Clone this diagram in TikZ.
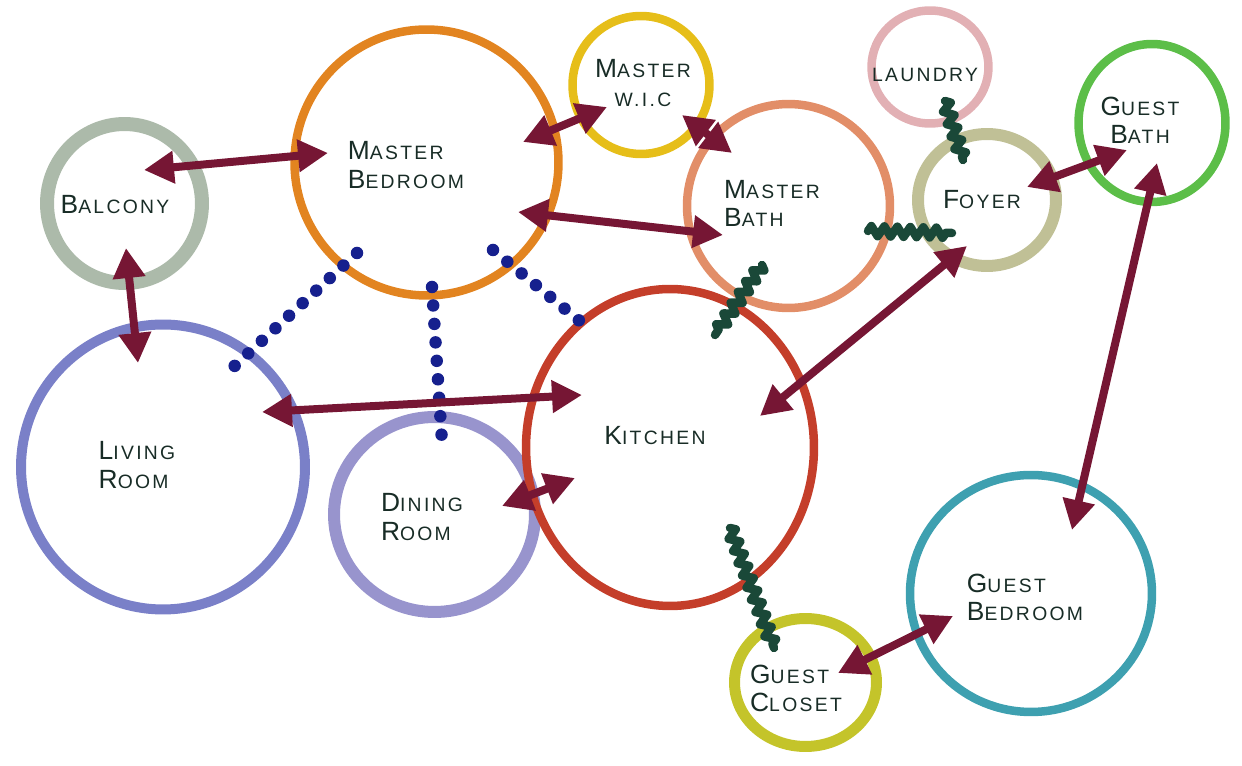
\documentclass[tikz,border=0pt]{standalone}
\usepackage{fontspec}
\newfontfamily\handfont[LetterSpace=12]{Liberation Sans}
\usetikzlibrary{shapes.geometric,arrows.meta,decorations.pathmorphing}
\definecolor{cbal}{RGB}{172,186,170}
\definecolor{cmbed}{RGB}{226,132,32}
\definecolor{cwic}{RGB}{230,190,25}
\definecolor{cmbath}{RGB}{226,142,104}
\definecolor{claun}{RGB}{226,176,180}
\definecolor{cfoy}{RGB}{192,192,150}
\definecolor{cgbath}{RGB}{92,190,72}
\definecolor{cliv}{RGB}{122,128,200}
\definecolor{cdin}{RGB}{152,148,205}
\definecolor{ckit}{RGB}{196,62,42}
\definecolor{cgbed}{RGB}{62,160,176}
\definecolor{cgclo}{RGB}{196,196,42}
\definecolor{maroon}{RGB}{118,22,52}
\definecolor{spring}{RGB}{26,72,56}
\definecolor{dotblue}{RGB}{22,32,142}
\definecolor{ink}{RGB}{24,44,38}
\newcommand\bigch[1]{{\fontsize{15}{16}\selectfont #1}}
\tikzset{
  bubble/.style={draw, ellipse, inner sep=0pt, line width=0.17cm},
  lbl/.style={font=\handfont\fontsize{11}{16}\selectfont, text=ink, align=left, inner sep=0pt},
  link/.style={draw=maroon, line width=0.16cm,
    {Triangle[length=0.6cm,width=0.62cm]}-{Triangle[length=0.6cm,width=0.62cm]}},
  squig/.style={draw=spring, line width=0.17cm, line cap=round, line join=round,
    decorate, decoration={zigzag, segment length=0.26cm, amplitude=0.1cm}},
  dots/.style={draw=dotblue, line width=0.25cm, line cap=round, dash pattern=on 0pt off 0.37cm},
}
\begin{document}
\begin{tikzpicture}[x=0.02cm, y=-0.02cm]
  \useasboundingbox (0,0) rectangle (1242,766);
  \draw
    (124.5,203.5) node[bubble, draw=cbal, line width=0.28cm, minimum width=3.10cm, minimum height=3.18cm] (bal){}
    (426.5,162.5) node[bubble, draw=cmbed, minimum width=5.28cm, minimum height=5.32cm] (mbed){}
    (641,85) node[bubble, draw=cwic, minimum width=2.74cm, minimum height=2.76cm] (wic){}
    (788.5,206) node[bubble, draw=cmbath, minimum width=4.06cm, minimum height=4.08cm] (mbath){}
    (930,67) node[bubble, draw=claun, minimum width=2.34cm, minimum height=2.26cm] (laun){}
    (987,200) node[bubble, draw=cfoy, line width=0.24cm, minimum width=2.76cm, minimum height=2.64cm] (foy){}
    (1152,123) node[bubble, draw=cgbath, minimum width=2.94cm, minimum height=3.16cm] (gbath){}
    (163,467) node[bubble, draw=cliv, line width=0.2cm, minimum width=5.68cm, minimum height=5.70cm] (liv){}
    (434.5,514.5) node[bubble, draw=cdin, line width=0.24cm, minimum width=4.02cm, minimum height=3.90cm] (din){}
    (670,447.5) node[bubble, draw=ckit, minimum width=5.76cm, minimum height=6.34cm] (kit){}
    (1031,593.5) node[bubble, draw=cgbed, minimum width=4.84cm, minimum height=4.74cm] (gbed){}
    (805.5,682.5) node[bubble, draw=cgclo, line width=0.22cm, minimum width=2.84cm, minimum height=2.56cm] (gclo){};
  \path
    (144,170) coordinate (bal-1) (328,153) coordinate (mbed-1)
    (126,248) coordinate (bal-2) (138,363) coordinate (liv-1)
    (523,142) coordinate (mbed-2) (607,107) coordinate (wic-1)
    (518,212) coordinate (mbed-3) (723,235) coordinate (mbath-1)
    (682,115) coordinate (wic-2) (732,153) coordinate (mbath-2)
    (262,412) coordinate (liv-2) (582,395) coordinate (kit-1)
    (502,506) coordinate (din-1) (575,478) coordinate (kit-2)
    (760,416) coordinate (kit-3) (967,246) coordinate (foy-1)
    (1027,187) coordinate (foy-2) (1127,150) coordinate (gbath-1)
    (1157,163) coordinate (gbath-2) (1072,530) coordinate (gbed-1)
    (838,673) coordinate (gclo-1) (953,616) coordinate (gbed-2)
    (945,101) coordinate (laun-1) (963,160) coordinate (foy-3)
    (868,231) coordinate (mbath-3) (952,233) coordinate (foy-4)
    (762,265) coordinate (mbath-4) (715,335) coordinate (kit-4)
    (730,528) coordinate (kit-5) (774,648) coordinate (gclo-2)
    (357,253) coordinate (mbed-4) (227,373) coordinate (liv-3)
    (432,287) coordinate (mbed-5) (442,442) coordinate (din-2)
    (493,250) coordinate (mbed-6) (587,327) coordinate (kit-6);
  \begin{scope}[dots]
    \draw (mbed-4) to (liv-3);
    \draw (mbed-5) to (din-2);
    \draw (mbed-6) to (kit-6);
  \end{scope}
  \begin{scope}[link]
    \draw (bal-1) to (mbed-1);
    \draw (bal-2) to (liv-1);
    \draw (mbed-2) to (wic-1);
    \draw (mbed-3) to (mbath-1);
    \draw (wic-2) to (mbath-2);
    \draw (liv-2) to (kit-1);
    \draw (din-1) to (kit-2);
    \draw (kit-3) to (foy-1);
    \draw (foy-2) to (gbath-1);
    \draw (gbath-2) to (gbed-1);
    \draw (gclo-1) to (gbed-2);
  \end{scope}
  \draw[squig] (laun-1) -- (foy-3);
  \draw[squig] (mbath-3) -- (foy-4);
  \draw[squig] (mbath-4) -- (kit-4);
  \draw[squig] (kit-5) -- (gclo-2);
  \node[lbl] (bal-t) at (115,205) {\bigch{B}ALCONY};
  \node[lbl] (mbed-t) at (406,165) {\bigch{M}ASTER\\\bigch{B}EDROOM};
  \node[lbl, align=center] (wic-t) at (643,83) {\bigch{M}ASTER\\W.I.C};
  \node[lbl] (mbath-t) at (772,203) {\bigch{M}ASTER\\\bigch{B}ATH};
  \node[lbl] (laun-t) at (925,75) {LAUNDRY};
  \node[lbl] (foy-t) at (982,200) {\bigch{F}OYER};
  \node[lbl, align=center] (gbath-t) at (1140,120) {\bigch{G}UEST\\\bigch{B}ATH};
  \node[lbl] (liv-t) at (137,465) {\bigch{L}IVING\\\bigch{R}OOM};
  \node[lbl] (din-t) at (422,517) {\bigch{D}INING\\\bigch{R}OOM};
  \node[lbl] (kit-t) at (655,436) {\bigch{K}ITCHEN};
  \node[lbl] (gbed-t) at (1025,597) {\bigch{G}UEST\\\bigch{B}EDROOM};
  \node[lbl] (gclo-t) at (796,688) {\bigch{G}UEST\\\bigch{C}LOSET};
\end{tikzpicture}
\end{document}
